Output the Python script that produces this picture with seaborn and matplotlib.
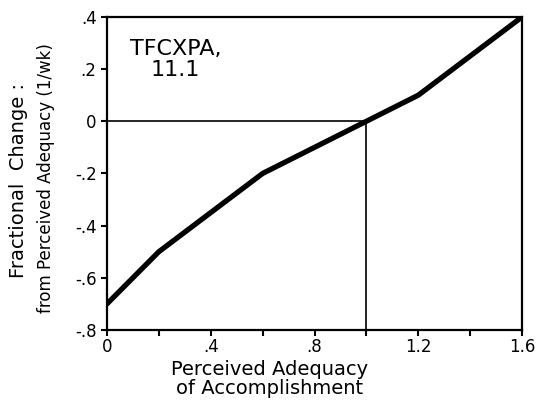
import matplotlib
matplotlib.use('Agg')
import pandas as pd
import seaborn as sns
import matplotlib.pyplot as plt
from matplotlib.ticker import MultipleLocator

# Table function TFCXPA (11.1)
adequacy = [0.0, 0.2, 0.4, 0.6, 0.8, 1.0, 1.2, 1.4, 1.6]
frac_change = [-0.7, -0.5, -0.35, -0.2, -0.1, 0.0, 0.1, 0.25, 0.4]
x_ticks = [0, 0.4, 0.8, 1.2, 1.6]
x_tick_labels = ['0', '.4', '.8', '1.2', '1.6']
y_ticks = [-0.8, -0.6, -0.4, -0.2, 0, 0.2, 0.4]
y_tick_labels = ['-.8', '-.6', '-.4', '-.2', '0', '.2', '.4']
normal_x = 1.0
normal_y = 0.0

data = pd.DataFrame({'Adequacy': adequacy, 'Change': frac_change})

sns.set_style('white')
plt.rcParams['font.family'] = ['DejaVu Sans']
plt.rcParams['text.color'] = 'black'

fig = plt.figure(figsize=(5.4, 4.01), dpi=100)
ax = fig.add_axes([0.198, 0.177, 0.769, 0.781])

sns.lineplot(data=data, x='Adequacy', y='Change', color='black', linewidth=3.8, ax=ax)

# reference lines to the normal point
ax.hlines(normal_y, x_ticks[0], normal_x, color='black', linewidth=1.2)
ax.vlines(normal_x, y_ticks[0], normal_y, color='black', linewidth=1.2)

ax.set_xlim(x_ticks[0], x_ticks[-1])
ax.set_ylim(y_ticks[0], y_ticks[-1])
ax.set_xticks(x_ticks)
ax.set_xticklabels(x_tick_labels, fontsize=12, color='black')
ax.set_yticks(y_ticks)
ax.set_yticklabels(y_tick_labels, fontsize=12, color='black')
ax.xaxis.set_minor_locator(MultipleLocator(0.2))
ax.tick_params(axis='both', which='both', direction='out', length=4, width=1.5,
               color='black', bottom=True, left=True)
ax.tick_params(axis='x', which='major', pad=2)
for s in ax.spines.values():
    s.set_color('black')
    s.set_linewidth(1.6)

ax.set_xlabel('')
ax.set_ylabel('')
fig.text(0.5, 0.055, 'Perceived Adequacy\nof Accomplishment', ha='center', va='center',
         fontsize=14, linespacing=1.05)
fig.text(0.035, 0.55, 'Fractional  Change :', rotation=90, ha='center', va='center', fontsize=14)
fig.text(0.085, 0.555, 'from Perceived Adequacy (1/wk)', rotation=90, ha='center', va='center',
         fontsize=12)
ax.text(0.165, 0.93, 'TFCXPA,\n11.1', transform=ax.transAxes, ha='center', va='top',
        fontsize=16, linespacing=1.05)

plt.savefig('out.png', dpi=100)
